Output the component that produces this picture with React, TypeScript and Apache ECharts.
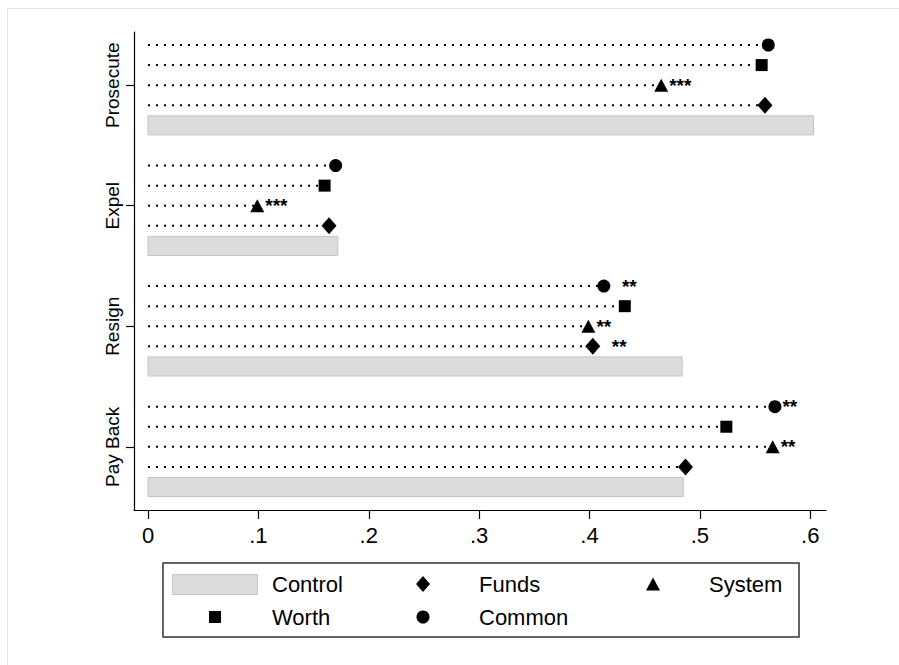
import React, { useEffect, useRef } from "react";
import * as echarts from "echarts";

// Groups, top to bottom
const groups = ["Prosecute", "Expel", "Resign", "Pay Back"];
// Share values per treatment, same order as groups
const control = [0.603, 0.172, 0.484, 0.485];
const funds = [0.559, 0.164, 0.403, 0.487];
const system = [0.465, 0.099, 0.399, 0.566];
const worth = [0.556, 0.16, 0.432, 0.524];
const common = [0.562, 0.17, 0.413, 0.568];
// Significance stars
const fundsStars = ["", "", "  **", ""];
const systemStars = ["***", "***", "**", "**"];
const worthStars = ["", "", "", ""];
const commonStars = ["", "", "  **", "**"];
// Axis ticks
const xTickValues = [0, 0.1, 0.2, 0.3, 0.4, 0.5, 0.6];
const legendNames = ["Control", "Funds", "System", "Worth", "Common"];

const FONT = "Liberation Sans, Arial, Helvetica, sans-serif";

// row position on the value y-axis (bottom group = 0)
const rowPos = (g: number, k: number) => (groups.length - 1 - g) * 6 + k;

export default function App() {
  const ref = useRef<HTMLDivElement>(null);
  useEffect(() => {
    if (!ref.current) return;
    const chart = echarts.init(ref.current, undefined, { renderer: "svg" });

    const markerSets = [
      { name: "Funds", vals: funds, stars: fundsStars, k: 1, symbol: "diamond", size: [15, 17] },
      { name: "System", vals: system, stars: systemStars, k: 2, symbol: "triangle", size: [14, 13] },
      { name: "Worth", vals: worth, stars: worthStars, k: 3, symbol: "rect", size: [12, 12] },
      { name: "Common", vals: common, stars: commonStars, k: 4, symbol: "circle", size: [13, 13] },
    ];

    const lineData: number[][] = [];
    markerSets.forEach((m) =>
      m.vals.forEach((v, g) => lineData.push([v, rowPos(g, m.k)]))
    );

    const groupCenters = groups.map((_, g) => rowPos(g, 2));

    const scatterSeries = markerSets.map((m) => ({
      type: "scatter",
      name: m.name,
      symbol: m.symbol,
      symbolSize: m.size,
      itemStyle: { color: "#000", opacity: 1 },
      z: 5,
      data: m.vals.map((v, g) => ({
        value: [v, rowPos(g, m.k)],
        label: {
          show: m.stars[g] !== "",
          formatter: m.stars[g],
          position: "right",
          distance: 1,
          color: "#000",
          fontSize: 19,
          fontWeight: "bold",
          fontFamily: FONT,
        },
      })),
    }));

    const keyY1 = 584;
    const keyY2 = 617;
    const legendGraphic = [
      {
        type: "rect",
        shape: { x: 7.5, y: 8.5, width: 1200, height: 1200 },
        style: { fill: "none", stroke: "#e3e3e3", lineWidth: 1 },
        silent: true,
        z: -10,
      },
      {
        type: "rect",
        shape: { x: 163, y: 563, width: 636, height: 74 },
        style: { fill: "#fff", stroke: "#333", lineWidth: 1.5 },
      },
      {
        type: "rect",
        shape: { x: 172.5, y: 574.5, width: 85, height: 20 },
        style: { fill: "#dcdcdc", stroke: "#c4c4c4", lineWidth: 1 },
      },
      {
        type: "polygon",
        shape: { points: [[423, keyY1 - 8], [430, keyY1], [423, keyY1 + 8], [416, keyY1]] },
        style: { fill: "#000" },
      },
      {
        type: "polygon",
        shape: { points: [[653, keyY1 - 6.5], [660, keyY1 + 6.5], [646, keyY1 + 6.5]] },
        style: { fill: "#000" },
      },
      {
        type: "rect",
        shape: { x: 209, y: keyY2 - 6, width: 12, height: 12 },
        style: { fill: "#000" },
      },
      {
        type: "circle",
        shape: { cx: 423, cy: keyY2, r: 6.5 },
        style: { fill: "#000" },
      },
      ...[
        [legendNames[0], 272, keyY1],
        [legendNames[1], 479, keyY1],
        [legendNames[2], 709, keyY1],
        [legendNames[3], 272, keyY2],
        [legendNames[4], 479, keyY2],
      ].map(([t, x, y]) => ({
        type: "text",
        x: x as number,
        y: y as number,
        style: {
          text: t as string,
          fill: "#000",
          font: `22px ${FONT}`,
          verticalAlign: "middle",
          align: "left",
        },
      })),
    ];

    chart.setOption({
      animation: false,
      backgroundColor: "#fff",
      grid: { left: 134, right: 73, top: 32, bottom: 155 },
      xAxis: {
        type: "value",
        min: -0.0127,
        max: 0.6143,
        splitLine: { show: false },
        axisLine: { show: true, onZero: false, lineStyle: { color: "#000", width: 1.2 } },
        axisTick: {
          show: true,
          customValues: xTickValues,
          length: 9,
          lineStyle: { color: "#000", width: 1.2 },
        },
        axisLabel: {
          customValues: xTickValues,
          formatter: (v: number) => (v === 0 ? "0" : "." + Math.round(v * 10)),
          color: "#000",
          fontSize: 22,
          fontFamily: FONT,
          margin: 14,
        },
      },
      yAxis: {
        type: "value",
        min: -1.145,
        max: 22.647,
        splitLine: { show: false },
        axisLine: { show: true, onZero: false, lineStyle: { color: "#000", width: 1.2 } },
        axisTick: {
          show: true,
          customValues: groupCenters,
          length: 8,
          lineStyle: { color: "#000", width: 1.2 },
        },
        axisLabel: {
          customValues: groupCenters,
          formatter: (v: number) => groups[groupCenters.indexOf(v)] ?? "",
          rotate: 90,
          color: "#000",
          fontSize: 19,
          fontFamily: FONT,
          margin: 12,
        },
      },
      series: [
        {
          type: "custom",
          name: "Control",
          z: 1,
          data: control.map((v, g) => [v, rowPos(g, 0)]),
          renderItem: (params: any, api: any) => {
            const v = api.value(0);
            const p = api.value(1);
            const s = api.coord([0, p]);
            const e = api.coord([v, p]);
            const h = api.size([0, 1])[1] * 0.95;
            return {
              type: "rect",
              shape: { x: s[0], y: s[1] - h / 2, width: e[0] - s[0], height: h },
              style: { fill: "#dcdcdc", stroke: "#c4c4c4", lineWidth: 1 },
            };
          },
        },
        {
          type: "custom",
          name: "droplines",
          z: 2,
          data: lineData,
          renderItem: (params: any, api: any) => {
            const v = api.value(0);
            const p = api.value(1);
            const s = api.coord([0, p]);
            const e = api.coord([v, p]);
            return {
              type: "line",
              shape: { x1: s[0], y1: s[1], x2: e[0], y2: e[1] },
              style: { stroke: "#000", lineWidth: 2, lineDash: [2, 6] },
            };
          },
        },
        ...scatterSeries,
      ],
      graphic: legendGraphic,
    });
    return () => chart.dispose();
  }, []);
  return (
    <div
      ref={ref}
      style={{ position: "fixed", left: 0, top: 0, width: 899, height: 665 }}
    />
  );
}
